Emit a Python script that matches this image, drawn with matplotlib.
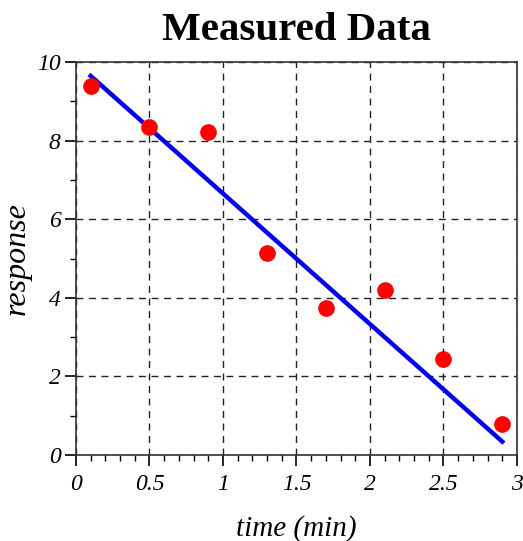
import matplotlib
matplotlib.use("Agg")
import matplotlib.pyplot as plt
from matplotlib.ticker import MultipleLocator

time_min = [0.1, 0.5, 0.9, 1.3, 1.7, 2.1, 2.5, 2.9]
response = [9.4, 8.35, 8.23, 5.14, 3.75, 4.21, 2.44, 0.79]

# fitted line endpoints
fit_x = [0.1, 2.9]
fit_y = [9.65, 0.34]

plt.rcParams["font.family"] = "Liberation Serif"

fig = plt.figure(figsize=(5.23, 5.41), dpi=100)
ax = fig.add_axes([0.1453, 0.159, 0.8432, 0.726])

ax.plot(fit_x, fit_y, color="#0000ee", lw=3.2, zorder=3)
ax.plot(time_min, response, "o", color="#ff0000", markersize=11, zorder=4)

ax.set_xlim(0, 3)
ax.set_ylim(0, 10)
ax.xaxis.set_minor_locator(MultipleLocator(0.1))
ax.yaxis.set_major_locator(MultipleLocator(2))
ax.yaxis.set_minor_locator(MultipleLocator(1))
ax.set_xticks([0, 0.5, 1, 1.5, 2, 2.5, 3])
ax.set_xticklabels(["0", "0.5", "1", "1.5", "2", "2.5", "3"])
ax.tick_params(which="major", direction="out", length=8, width=1.2, labelsize=17)
ax.tick_params(axis="x", which="major", pad=6)
ax.tick_params(axis="y", which="major", pad=3)
ax.tick_params(which="minor", direction="out", length=4, width=1)
for lab in ax.get_xticklabels() + ax.get_yticklabels():
    lab.set_fontstyle("italic")

ax.grid(True, which="major", color="#222222", linestyle=(0, (5, 4)), linewidth=1)
for s in ax.spines.values():
    s.set_linewidth(1.2)
    s.set_color("#333333")

ax.set_xlabel("time (min)", fontsize=21, fontstyle="italic", labelpad=14)
ax.set_ylabel("response", fontsize=23, fontstyle="italic")
ax.yaxis.set_label_coords(-0.10, 0.5)
ax.set_title("Measured Data", fontsize=29.5, fontweight="bold", pad=16)

fig.savefig("out.png", dpi=100)
